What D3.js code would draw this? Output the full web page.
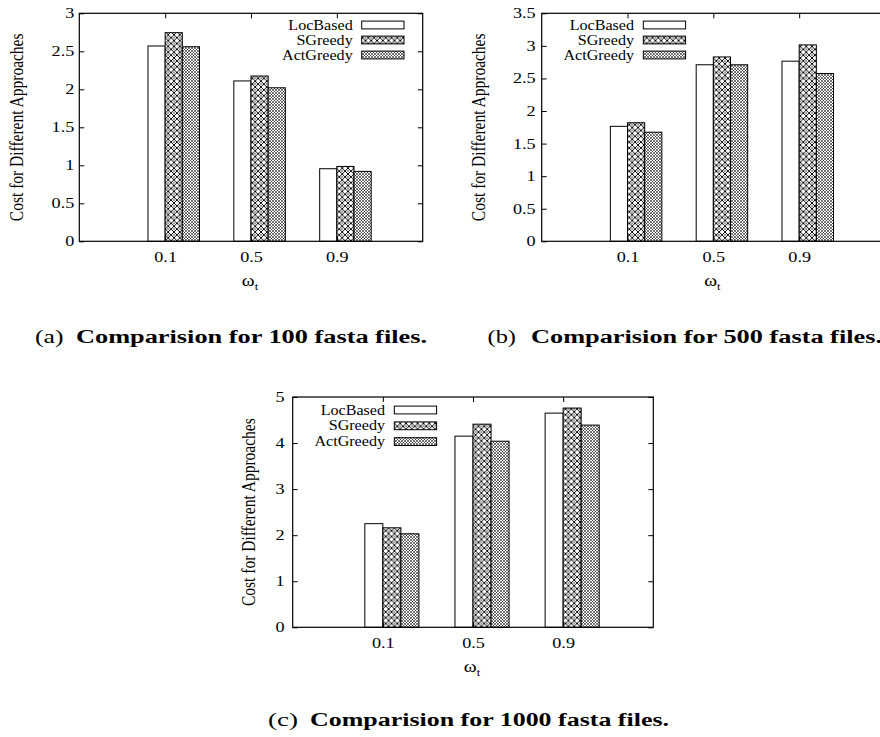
<!DOCTYPE html>
<html><head><meta charset="utf-8">
<script src="https://cdn.jsdelivr.net/npm/d3@7"></script>
<style>
html,body{margin:0;padding:0;background:#fff;}
svg{display:block;}
</style></head>
<body>
<svg id="fig" width="880" height="737"></svg>
<script>
// ---------------- data ----------------
const categories = ["0.1", "0.5", "0.9"];
const seriesNames = ["LocBased", "SGreedy", "ActGreedy"];

const locBased100 = [2.57, 2.11, 0.955];
const sGreedy100 = [2.745, 2.175, 0.985];
const actGreedy100 = [2.56, 2.02, 0.92];

const locBased500 = [1.765, 2.71, 2.765];
const sGreedy500 = [1.82, 2.83, 3.015];
const actGreedy500 = [1.675, 2.71, 2.575];

const locBased1000 = [2.25, 4.15, 4.65];
const sGreedy1000 = [2.16, 4.41, 4.76];
const actGreedy1000 = [2.03, 4.04, 4.39];

const yTicks100 = [0, 0.5, 1, 1.5, 2, 2.5, 3];
const yTicks500 = [0, 0.5, 1, 1.5, 2, 2.5, 3, 3.5];
const yTicks1000 = [0, 1, 2, 3, 4, 5];

const yLabel = "Cost for Different Approaches";
const captionTags = ["(a)", "(b)", "(c)"];
const captionTexts = ["Comparision for 100 fasta files.", "Comparision for 500 fasta files.", "Comparision for 1000 fasta files."];

// ---------------- layout ----------------
const FONT = "Liberation Serif";
const SX = 1.15;       // horizontal text stretch of the reference
const SXT = 1.3;       // stretch of tick labels
const FS = 14;         // chart font size
const svg = d3.select("#fig");
const defs = svg.append("defs");

const pSG = defs.append("pattern").attr("id", "pSG").attr("patternUnits", "userSpaceOnUse")
  .attr("width", 5.8).attr("height", 5.8);
pSG.append("rect").attr("width", 5.8).attr("height", 5.8).attr("fill", "#fff");
pSG.append("path").attr("d", "M0,0L5.8,5.8M5.8,0L0,5.8")
  .attr("stroke", "#000").attr("stroke-width", 0.95).attr("fill", "none");
pSG.append("circle").attr("cx", 0).attr("cy", 2.9).attr("r", 0.7).attr("fill", "#000");
pSG.append("circle").attr("cx", 5.8).attr("cy", 2.9).attr("r", 0.7).attr("fill", "#000");

const pACT = defs.append("pattern").attr("id", "pACT").attr("patternUnits", "userSpaceOnUse")
  .attr("width", 3).attr("height", 3);
pACT.append("rect").attr("width", 3).attr("height", 3).attr("fill", "#fff");
pACT.append("path").attr("d", "M0,0L3,3M3,0L0,3")
  .attr("stroke", "#000").attr("stroke-width", 0.55).attr("fill", "none");

const fills = ["#fff", "url(#pSG)", "url(#pACT)"];

const panels = [
  { left: 79.3, right: 422.7, top: 13.3, bottom: 241.3, yMax: 3, ticks: yTicks100, pad: 5,
    data: [locBased100, sGreedy100, actGreedy100], ylabOff: 62,
    legend: { textX: 352.7, swX: 361.7, rows: [25, 40, 55] } },
  { left: 541.7, right: 885, top: 13.3, bottom: 241.3, yMax: 3.5, ticks: yTicks500, pad: 6,
    data: [locBased500, sGreedy500, actGreedy500], ylabOff: 62.5,
    legend: { textX: 634, swX: 643.3, rows: [25, 40, 55] } },
  { left: 292.7, right: 653.3, top: 397, bottom: 627.3, yMax: 5, ticks: yTicks1000, pad: 8,
    data: [locBased1000, sGreedy1000, actGreedy1000], ylabOff: 44,
    legend: { textX: 385, swX: 394.3, rows: [410, 425.8, 441.6] } }
];

function stretchText(sel, s) {
  sel.each(function () {
    const t = d3.select(this);
    const x = +t.attr("x") || 0;
    const y = +t.attr("y") || 0;
    t.attr("x", null).attr("y", null)
     .attr("transform", `translate(${x},${y}) scale(${s},1)`);
  });
}

panels.forEach((p) => {
  const g = svg.append("g");
  const x = d3.scaleLinear().domain([0, 4]).range([p.left, p.right]);
  const y = d3.scaleLinear().domain([0, p.yMax]).range([p.bottom, p.top]);

  // bars
  p.data.forEach((vals, si) => {
    g.selectAll(null).data(vals).enter().append("rect")
      .attr("x", (d, i) => x(i + 1 - 0.2 + si * 0.2))
      .attr("width", (d, i) => x(i + 1 + si * 0.2) - x(i + 1 - 0.2 + si * 0.2))
      .attr("y", d => y(d))
      .attr("height", d => y(0) - y(d))
      .attr("fill", fills[si])
      .attr("stroke", "#000").attr("stroke-width", 1);
  });

  // axes
  const axL = g.append("g").attr("transform", `translate(${p.left},0)`)
    .call(d3.axisLeft(y).tickValues(p.ticks).tickSize(-5).tickPadding(p.pad).tickFormat(d3.format("")));
  const axR = g.append("g").attr("transform", `translate(${p.right},0)`)
    .call(d3.axisRight(y).tickValues(p.ticks).tickSize(-5).tickFormat(""));
  const axB = g.append("g").attr("transform", `translate(0,${p.bottom})`)
    .call(d3.axisBottom(x).tickValues([1, 2, 3]).tickSize(-5).tickPadding(11).tickFormat(d => categories[d - 1]));
  const axT = g.append("g").attr("transform", `translate(0,${p.top})`)
    .call(d3.axisTop(x).tickValues([1, 2, 3]).tickSize(-5).tickFormat(""));
  [axL, axR, axB, axT].forEach(a => {
    a.select(".domain").remove();
    a.selectAll("line").attr("stroke", "#000").attr("stroke-width", 1);
    a.selectAll("text").attr("font-size", FS).attr("font-family", FONT).attr("fill", "#000");
  });
  axL.selectAll("text").call(stretchText, SXT);
  axB.selectAll("text").call(stretchText, SXT);

  // frame
  g.append("rect").attr("x", p.left).attr("y", p.top)
    .attr("width", p.right - p.left).attr("height", p.bottom - p.top)
    .attr("fill", "none").attr("stroke", "#000").attr("stroke-width", 1.2);

  // y label
  const cy = (p.top + p.bottom) / 2;
  g.append("text")
    .attr("transform", `translate(${p.left - p.ylabOff},${cy}) rotate(-90) scale(1,${SX})`)
    .attr("text-anchor", "middle").attr("dominant-baseline", "central")
    .attr("font-family", FONT).attr("font-size", 15.5).text(yLabel);

  // x label omega_t
  const xl = g.append("text")
    .attr("transform", `translate(${(p.left + p.right) / 2 - 1},${p.bottom + 45}) scale(${SX},1)`)
    .attr("text-anchor", "middle").attr("font-family", FONT).attr("font-size", 17);
  xl.append("tspan").text("ω");
  xl.append("tspan").attr("font-size", 11).attr("dy", 4).text("t");

  // legend
  seriesNames.forEach((name, si) => {
    const ry = p.legend.rows[si];
    g.append("text")
      .attr("transform", `translate(${p.legend.textX},${ry}) scale(${SX},1)`)
      .attr("text-anchor", "end").attr("dominant-baseline", "central")
      .attr("font-family", FONT).attr("font-size", FS).text(name);
    g.append("rect").attr("x", p.legend.swX).attr("y", ry - 3.9)
      .attr("width", 42.3).attr("height", 7.8)
      .attr("fill", fills[si]).attr("stroke", "#000").attr("stroke-width", 1);
  });
});

// captions
const capPos = [
  { tagX: 35, tagW: 28.5, textX: 76, y: 342.5, len: 351 },
  { tagX: 487.5, tagW: 28.5, textX: 531, y: 342.5, len: 351 },
  { tagX: 268, tagW: 30, textX: 310, y: 726, len: 359 }
];
capPos.forEach((c, i) => {
  svg.append("text").attr("x", c.tagX).attr("y", c.y)
    .attr("font-family", FONT).attr("font-size", 18)
    .attr("textLength", c.tagW).attr("lengthAdjust", "spacingAndGlyphs")
    .text(captionTags[i]);
  svg.append("text").attr("x", c.textX).attr("y", c.y)
    .attr("font-family", FONT).attr("font-size", 18).attr("font-weight", "bold")
    .attr("textLength", c.len).attr("lengthAdjust", "spacingAndGlyphs")
    .text(captionTexts[i]);
});
</script>
</body></html>
